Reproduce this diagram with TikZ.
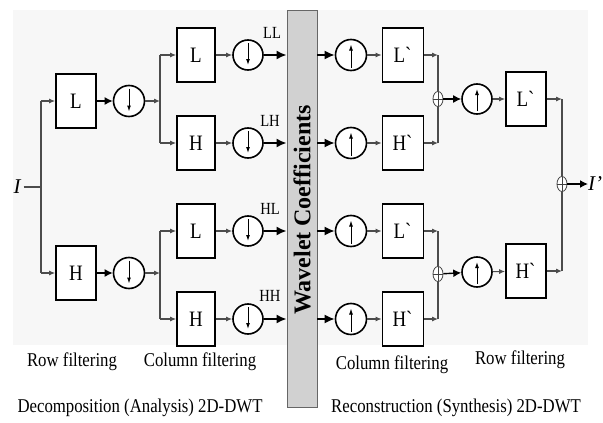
\documentclass[tikz,border=0pt]{standalone}
\usepackage{fontspec}
\setmainfont{Liberation Serif}
\newfontfamily\labfont[FakeStretch=0.86]{Liberation Serif}
\usetikzlibrary{arrows.meta,shapes.geometric}

\begin{document}
\begin{tikzpicture}[x=1pt,y=-1pt,
  wire/.style={draw=black!70, line width=1.1pt},
  sarrow/.style={wire, -{Latex[length=6pt,width=5pt]}},
  marrow/.style={draw=black, line width=1.4pt, -{Latex[length=8pt,width=8pt]}},
  barrow/.style={draw=black, line width=1.8pt, -{Latex[length=10pt,width=9pt]}},
  filt/.style={draw, line width=1.7pt, minimum width=40pt, minimum height=54pt,
    inner sep=0pt, fill=white, font=\labfont\fontsize{22}{22}\selectfont},
  samp/.style={circle, draw, line width=1.6pt, minimum size=31pt, inner sep=0pt, fill=white},
  downs/.style={samp, path picture={\draw[line width=1pt,-{Latex[length=6pt,width=4pt]}]
    ([yshift=-3pt]path picture bounding box.north) -- ([yshift=5pt]path picture bounding box.south);}},
  ups/.style={samp, path picture={\draw[line width=1pt,-{Latex[length=6pt,width=4pt]}]
    ([yshift=3pt]path picture bounding box.south) -- ([yshift=-5pt]path picture bounding box.north);}},
  sumnode/.style={ellipse, draw=black!75, line width=0.8pt, minimum width=10pt, minimum height=15pt,
    inner sep=0pt, fill=white, path picture={
      \draw[black!75, line width=0.8pt] (path picture bounding box.north) -- (path picture bounding box.south);
      \draw[black!75, line width=0.8pt] (path picture bounding box.west) -- (path picture bounding box.east);}},
  band/.style={font=\labfont\fontsize{17}{17}\selectfont, inner sep=0pt},
  lbl/.style={font=\labfont\fontsize{19.5}{19.5}\selectfont, inner sep=0pt},
  sig/.style={font=\fontsize{21}{21}\selectfont\itshape, inner sep=0pt}
]
\useasboundingbox (0,0) rectangle (603,423);
\fill[black!3] (13,10) rectangle (588,345);

% ---------- analysis: row stage ----------
\node[sig] (I) at (17,187) {I};
\coordinate (split) at (41,187);
\coordinate (sT) at (41,101);
\coordinate (sB) at (41,273);
\node[filt] (rowL) at (76,101) {L};
\node[filt] (rowH) at (76,273) {H};
\node[downs] (ds1) at (129,101) {};
\node[downs] (ds2) at (129,273) {};
\coordinate (jT) at (160,101);
\coordinate (jB) at (160,273);

\draw[wire] (I.east) ++(3,0) -- (split);
\draw[wire] (sT) -- (sB);
\draw[sarrow] (sT) -- (rowL);
\draw[sarrow] (sB) -- (rowH);
\draw[marrow] (rowL) -- (ds1);
\draw[marrow] (rowH) -- (ds2);
\draw[sarrow] (ds1) -- (jT);
\draw[sarrow] (ds2) -- (jB);

% ---------- analysis: column stage ----------
\coordinate (j1) at (160,55);
\coordinate (j2) at (160,143);
\coordinate (j3) at (160,231);
\coordinate (j4) at (160,319);
\node[filt, minimum width=38pt] (cLL) at (196,55) {L};
\node[filt, minimum width=38pt] (cLH) at (196,143) {H};
\node[filt, minimum width=38pt] (cHL) at (196,231) {L};
\node[filt, minimum width=38pt] (cHH) at (196,319) {H};
\node[downs, minimum size=30pt] (d1) at (248,55) {};
\node[downs, minimum size=30pt] (d2) at (248,143) {};
\node[downs, minimum size=30pt] (d3) at (248,231) {};
\node[downs, minimum size=30pt] (d4) at (248,319) {};

\draw[wire] (j1) -- (j2);
\draw[wire] (j3) -- (j4);
\foreach \j/\c/\d in {j1/cLL/d1, j2/cLH/d2, j3/cHL/d3, j4/cHH/d4}{
  \draw[sarrow] (\j) -- (\c);
  \draw[sarrow] (\c) -- (\d);
}

% ---------- coefficient bar ----------
\node[draw=black!60, fill=black!18, line width=0.8pt, minimum width=30pt, minimum height=397pt,
  inner sep=0pt] (bar) at (302,208.5) {};
\node[rotate=90, font=\bfseries\fontsize{24}{24}\selectfont, inner sep=0pt] (wc) at (302,210)
  {Wavelet Coefficients};

\foreach \d in {d1,d2,d3,d4}{
  \draw[barrow] (\d) -- (\d -| bar.west);
}
\node[band] (tLL) at (272,33) {LL};
\node[band] (tLH) at (270,121) {LH};
\node[band] (tHL) at (270,209) {HL};
\node[band] (tHH) at (270,296) {HH};

% ---------- synthesis: column stage ----------
\node[ups] (u1) at (351,55) {};
\node[ups] (u2) at (351,143) {};
\node[ups] (u3) at (351,231) {};
\node[ups] (u4) at (351,319) {};
\node[filt, minimum width=41pt] (bL1) at (403,55) {L\textasciigrave};
\node[filt, minimum width=41pt] (bH1) at (403,143) {H\textasciigrave};
\node[filt, minimum width=41pt] (bL2) at (403,231) {L\textasciigrave};
\node[filt, minimum width=41pt] (bH2) at (403,319) {H\textasciigrave};
\coordinate (k1) at (438,55);
\coordinate (k2) at (438,143);
\coordinate (k3) at (438,231);
\coordinate (k4) at (438,319);

\foreach \u/\b/\k in {u1/bL1/k1, u2/bH1/k2, u3/bL2/k3, u4/bH2/k4}{
  \draw[barrow] (\u -| bar.east) -- (\u);
  \draw[sarrow] (\u) -- (\b);
  \draw[sarrow] (\b) -- (\k);
}
\node[sumnode] (p1) at (438,99) {};
\node[sumnode] (p2) at (438,274) {};
\draw[wire] (k1) -- (p1.north);
\draw[wire] (p1.south) -- (k2);
\draw[wire] (k3) -- (p2.north);
\draw[wire] (p2.south) -- (k4);

% ---------- synthesis: row stage ----------
\node[ups, minimum size=30pt] (u5) at (477,99) {};
\node[ups, minimum size=30pt] (u6) at (477,272) {};
\node[filt] (rL) at (526,99) {L\textasciigrave};
\node[filt] (rH) at (526,271) {H\textasciigrave};
\coordinate (m1) at (562,99);
\coordinate (m2) at (562,271);
\node[sumnode] (p3) at (562,184) {};
\node[sig, anchor=west] (Iout) at (588,184) {I'};

\draw[marrow] (p1) -- (u5);
\draw[marrow] (p2) -- (u6);
\draw[sarrow] (u5) -- (rL);
\draw[sarrow] (u6) -- (rH);
\draw[sarrow] (rL) -- (m1);
\draw[sarrow] (rH) -- (m2);
\draw[wire] (m1) -- (p3.north);
\draw[wire] (p3.south) -- (m2);
\draw[marrow] (p3) -- (Iout);

% ---------- captions ----------
\node[lbl] (c1) at (72,362) {Row filtering};
\node[lbl] (c2) at (200,362) {Column filtering};
\node[lbl] (c3) at (392,365) {Column filtering};
\node[lbl] (c4) at (520,360) {Row filtering};
\node[lbl] (c5) at (140,408) {Decomposition (Analysis) 2D-DWT};
\node[lbl] (c6) at (456,408) {Reconstruction (Synthesis) 2D-DWT};
\end{tikzpicture}
\end{document}
